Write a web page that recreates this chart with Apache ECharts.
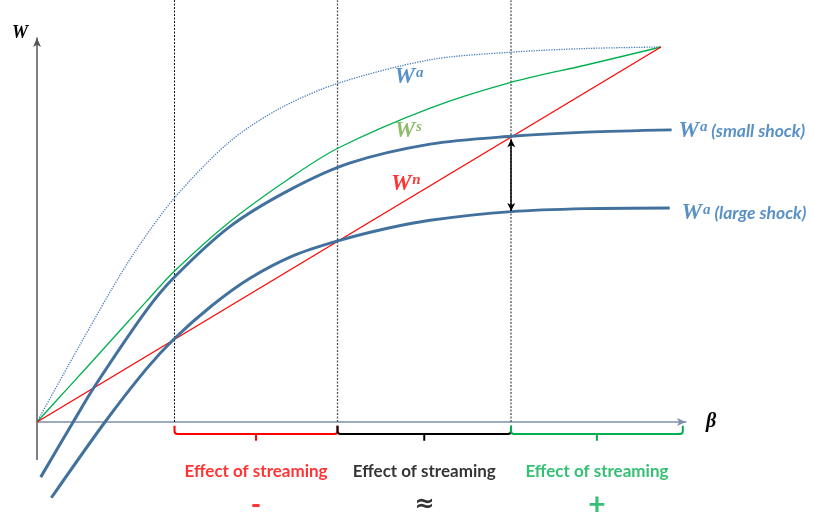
<!DOCTYPE html>
<html>
<head>
<meta charset="utf-8">
<script src="https://cdn.jsdelivr.net/npm/echarts@6/dist/echarts.min.js"></script>
<style>
html,body{margin:0;padding:0;background:#fff;}
#chart{width:814px;height:515px;}
</style>
</head>
<body>
<div id="chart"></div>
<script>
// ---- data (beta, W) ----
const wnPoints = [[0, 0], [100, 100]];
const wsPoints = [[0, 0], [5.2, 9.5], [10.5, 19.2], [17.5, 32.1], [22, 40.2], [30.9, 53.4], [40.5, 65], [48.2, 73], [63, 83.7], [75.8, 90.5], [88, 95.2], [100, 100]];
const waPoints = [[0, 0], [5, 15], [11.9, 35.2], [15.9, 45.9], [22, 59.7], [30.9, 74.8], [38.9, 83.6], [48.2, 90.3], [63, 96.6], [75.8, 98.6], [88, 99.6], [100, 100]];
const smallShock = [[0.6, -14.7], [5.8, 0], [9.2, 9.4], [17.5, 29.7], [22, 38.6], [30.9, 52.1], [40.5, 61.9], [50.2, 69.1], [63, 74.1], [76, 76.2], [88, 77.3], [101.7, 77.9]];
const largeShock = [[2.3, -20.2], [10.9, 0], [17.5, 14.1], [22, 22.2], [28, 31.0], [34, 38.2], [41, 44.3], [48.2, 48.3], [56, 51.6], [63, 53.8], [76, 56.1], [88, 56.9], [101.4, 57.1]];
const dividers = [22.04, 48.16, 75.96];
const braceEnd = 103.5;
const gapArrow = { beta: 76, top: 75.4, bottom: 56.3 };
const effectTexts = ['Effect of streaming', 'Effect of streaming', 'Effect of streaming'];
const effectSigns = ['-', '\u2248', '+'];
const effectColors = ['#ff0000', '#000000', '#00b050'];
const curveLabelTexts = [
  { sup: 'a', tail: '', color: '#2e75b6', at: [59.6, 92.1], side: 'inside' },
  { sup: 's', tail: '', color: '#70ad47', at: [59.5, 77.6], side: 'inside' },
  { sup: 'n', tail: '', color: '#ff0000', at: [59.1, 63.5], side: 'inside' },
  { sup: 'a', tail: ' (small shock)', color: '#2e75b6', at: [102.8, 77.6], side: 'right' },
  { sup: 'a', tail: ' (large shock)', color: '#2e75b6', at: [103.3, 55.7], side: 'right' }
];

// ---- build ----
const braceStarts = dividers;
const braceEnds = dividers.slice(1).concat([braceEnd]);
const braceData = braceStarts.map((s, i) => [s, braceEnds[i], i]);
const mids = braceStarts.map((s, i) => (s + braceEnds[i]) / 2);

function richFor(color) {
  return {
    w: { fontFamily: 'Liberation Serif', fontStyle: 'italic', fontWeight: 'bold', fontSize: 23, color: color, lineHeight: 24 },
    s: { fontFamily: 'Liberation Serif', fontStyle: 'italic', fontWeight: 'bold', fontSize: 15, color: color, lineHeight: 13, verticalAlign: 'top', padding: [1, 0, 0, 1] },
    t: { fontFamily: 'Lato', fontStyle: 'italic', fontWeight: 'bold', fontSize: 17.5, color: color, lineHeight: 24 }
  };
}

const chart = echarts.init(document.getElementById('chart'), null, { renderer: 'canvas' });
const option = {
  animation: false,
  backgroundColor: '#ffffff',
  grid: { left: 37, top: 38, width: 648.96, height: 421.5 },
  xAxis: {
    type: 'value', min: 0, max: 104,
    axisLine: { show: true, onZero: true, symbol: ['none', 'arrow'], symbolSize: [6, 9], lineStyle: { color: '#7f90aa', width: 1.5 } },
    axisTick: { show: false }, axisLabel: { show: false }, splitLine: { show: false },
    name: '\u03b2', nameLocation: 'end', nameGap: 20,
    nameTextStyle: { fontFamily: 'Liberation Serif', fontStyle: 'italic', fontWeight: 'bold', fontSize: 20, color: '#000', verticalAlign: 'middle', padding: [14, 0, 0, 0] }
  },
  yAxis: {
    type: 'value', min: -10, max: 102.4,
    axisLine: { show: true, onZero: true, symbol: ['none', 'arrow'], symbolSize: [6, 9], lineStyle: { color: '#555555', width: 1.5 } },
    axisTick: { show: false }, axisLabel: { show: false }, splitLine: { show: false },
    name: 'W', nameLocation: 'end', nameGap: 5,
    nameTextStyle: { fontFamily: 'Liberation Serif', fontStyle: 'italic', fontWeight: 'bold', fontSize: 18, color: '#000', align: 'right', verticalAlign: 'middle', padding: [0, 9, 0, 0] }
  },
  series: [
    // vertical dotted dividers
    ...dividers.map((b, i) => ({
      type: 'line', data: [[b, 0], [b, 112.5]], symbol: 'none', clip: false, silent: true,
      lineStyle: { color: i === 0 ? '#111' : '#555', width: i === 0 ? 1 : 1.3, type: [2, 1.5] }, z: 1
    })),
    {
      name: 'Wa', type: 'line', data: waPoints, smooth: 0.3, symbol: 'none', clip: false,
      lineStyle: { color: '#4a7fbd', width: 1.3, type: [1.3, 1.2] }, z: 2
    },
    {
      name: 'Ws', type: 'line', data: wsPoints, smooth: 0.3, symbol: 'none', clip: false,
      lineStyle: { color: '#00b050', width: 1.3 }, z: 2
    },
    {
      name: 'Wn', type: 'line', data: wnPoints, symbol: 'none', clip: false,
      lineStyle: { color: '#ff0000', width: 1.2 }, z: 3,
      markLine: {
        silent: true, symbol: ['arrow', 'arrow'], symbolSize: [6, 8],
        label: { show: false },
        lineStyle: { color: '#000', width: 1.5, type: 'solid' },
        data: [[{ coord: [gapArrow.beta, gapArrow.top] }, { coord: [gapArrow.beta, gapArrow.bottom] }]]
      }
    },
    {
      name: 'small shock', type: 'line', data: smallShock, smooth: 0.3, symbol: 'none', clip: false,
      lineStyle: { color: '#41719c', width: 3 }, z: 4
    },
    {
      name: 'large shock', type: 'line', data: largeShock, smooth: 0.3, symbol: 'none', clip: false,
      lineStyle: { color: '#41719c', width: 3 }, z: 4
    },
    // braces
    {
      type: 'custom', data: braceData, clip: false, silent: true, z: 3,
      renderItem: function (params, api) {
        const s = api.value(0), e = api.value(1), idx = api.value(2);
        const a = api.coord([s, -1.0]);
        const h = api.coord([s, -3.2]);
        const b = api.coord([e, -1.0]);
        const m = api.coord([(s + e) / 2, -5.0]);
        const x0 = a[0], x1 = b[0], yt = a[1], yh = h[1], xm = m[0], r = 3;
        const d = 'M' + x0 + ' ' + yt + ' L' + x0 + ' ' + (yh - r) + ' Q' + x0 + ' ' + yh + ' ' + (x0 + r) + ' ' + yh +
          ' L' + (x1 - r) + ' ' + yh + ' Q' + x1 + ' ' + yh + ' ' + x1 + ' ' + (yh - r) + ' L' + x1 + ' ' + yt +
          ' M' + xm + ' ' + yh + ' L' + xm + ' ' + m[1];
        return { type: 'path', shape: { pathData: d }, style: { fill: null, stroke: effectColors[idx], lineWidth: 2 } };
      }
    },
    // curve labels
    {
      type: 'scatter', symbolSize: 0, clip: false, silent: true, z: 6,
      data: curveLabelTexts.map(c => ({
        value: c.at,
        label: {
          show: true, position: c.side, distance: 0,
          formatter: '{w|W}{s|' + c.sup + '}' + (c.tail ? '{t|' + c.tail + '}' : ''),
          rich: richFor(c.color)
        }
      }))
    },
    // effect texts
    {
      type: 'scatter', symbolSize: 0, clip: false, silent: true, z: 6,
      data: mids.map((x, i) => ({
        value: [x, -13.3],
        label: { show: true, position: 'inside', formatter: effectTexts[i], color: effectColors[i], fontFamily: 'Lato', fontWeight: 'bold', fontSize: 17 }
      }))
    },
    // signs
    {
      type: 'scatter', symbolSize: 0, clip: false, silent: true, z: 6,
      data: mids.map((x, i) => ({
        value: [x, -22.1],
        label: { show: true, position: 'inside', formatter: effectSigns[i], color: effectColors[i], fontFamily: i === 1 ? 'DejaVu Sans' : 'Lato', fontWeight: 'bold', fontSize: i === 2 ? 30 : (i === 1 ? 24 : 28) }
      }))
    }
  ]
};
chart.setOption(option);
</script>
</body>
</html>
